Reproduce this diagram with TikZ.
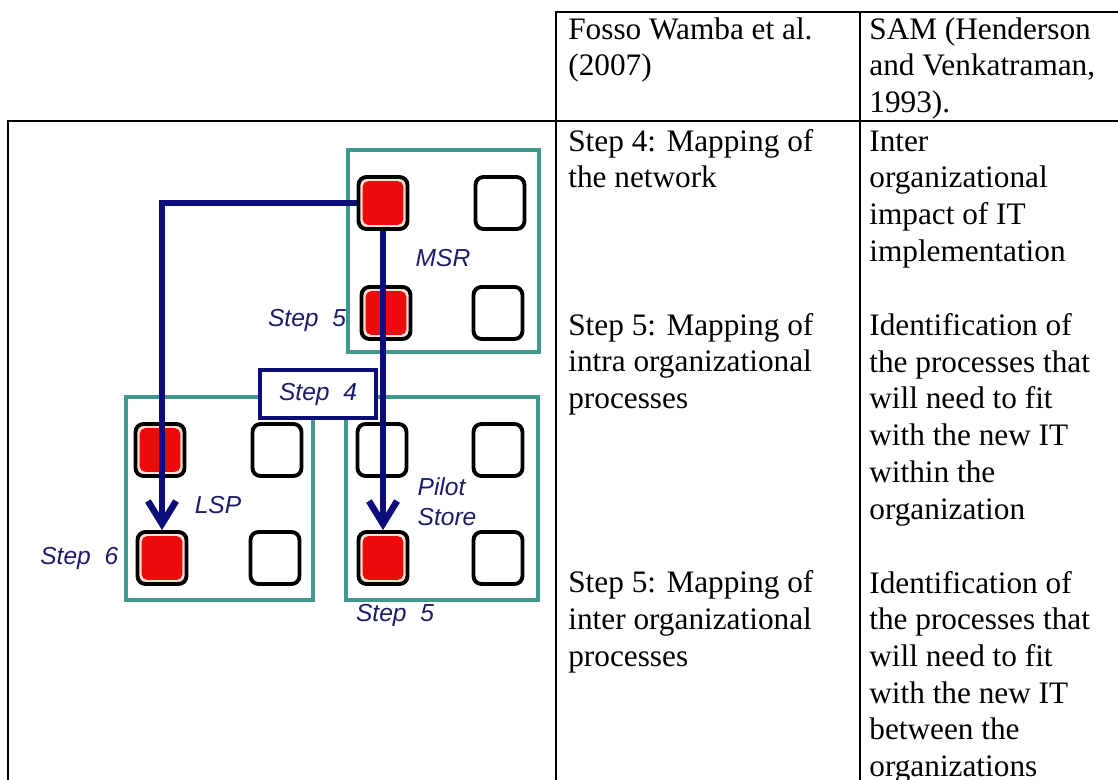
\documentclass[tikz,border=0pt]{standalone}
\usepackage{fontspec}
\setmainfont{Liberation Serif}
\setsansfont{Liberation Sans}
\usetikzlibrary{arrows.meta,positioning}
\definecolor{unitteal}{RGB}{64,152,142}
\definecolor{flownavy}{RGB}{12,12,122}
\definecolor{labelnavy}{RGB}{28,28,105}
\definecolor{cellred}{RGB}{236,10,10}
\definecolor{cellring}{RGB}{255,222,212}

\begin{document}
\begin{tikzpicture}[x=0.02cm, y=-0.02cm,
    rule/.style={line width=1.5pt, line cap=rect},
    txt/.style={anchor=base west, align=left, inner sep=0pt, font=\fontsize{17.8}{20.9}\selectfont},
    unit/.style={draw=unitteal, line width=2.3pt, inner sep=0pt},
    cell/.style={draw=black, line width=2.2pt, rounded corners=4.5pt, minimum width=0.98cm, minimum height=1.04cm, inner sep=0pt, fill=white},
    hot/.style={cell, fill=cellring, path picture={\fill[cellred, rounded corners=3pt] ([shift={(2.4pt,-2.4pt)}]path picture bounding box.north west) rectangle ([shift={(-2.4pt,2.4pt)}]path picture bounding box.south east);}},
    lbl/.style={inner sep=0pt, text=labelnavy, font=\fontsize{14}{17}\selectfont\sffamily\itshape},
    flow/.style={draw=flownavy, line width=3.7pt, -{Straight Barb[length=13pt,width=16pt]}}]
  \useasboundingbox (0,0) rectangle (1118,780);

  % table rules
  \draw[rule] (556,12) -- (1118,12);
  \draw[rule] (8,121) -- (1118,121);
  \draw[rule] (8,121) -- (8,780);
  \draw[rule] (556,12) -- (556,780);
  \draw[rule] (860,12) -- (860,780);

  % cells, placed at the baseline of their last line
  \node[txt] (hdrA) at (568,75.8) {Fosso Wamba et al.\\(2007)};
  \node[txt] (hdrB) at (869,112.6) {SAM (Henderson\\and Venkatraman,\\1993).};
  \node[txt] (stepA) at (568,187.8) {Step 4: Mapping of\\the network};
  \node[txt] (stepB) at (568,408.6) {Step 5: Mapping of\\intra organizational\\processes};
  \node[txt] (stepC) at (568,666.2) {Step 5: Mapping of\\inter organizational\\processes};
  \node[txt] (samA) at (869,261.4) {Inter\\organizational\\impact of IT\\implementation};
  \node[txt] (samB) at (869,519) {Identification of\\the processes that\\will need to fit\\with the new IT\\within the\\organization};
  \node[txt] (samC) at (869,776.6) {Identification of\\the processes that\\will need to fit\\with the new IT\\between the\\organizations};

  % organisations
  \node[unit, minimum width=3.82cm, minimum height=4.04cm] (msr) at (443.5,251) {};
  \node[unit, minimum width=3.74cm, minimum height=4.06cm] (lsp) at (219.5,498.5) {};
  \node[unit, minimum width=3.84cm, minimum height=4.06cm] (pilot) at (442,498.5) {};

  \node[hot] (m11) at (383,203) {};
  \node[cell] (m12) at (500,203) {};
  \node[hot] (m21) at (386,313) {};
  \node[cell] (m22) at (498,313) {};
  \node[hot] (l11) at (160,450) {};
  \node[cell] (l12) at (277,450) {};
  \node[hot] (l21) at (162,558) {};
  \node[cell] (l22) at (275,558) {};
  \node[cell] (p11) at (382,450) {};
  \node[cell] (p12) at (498,450) {};
  \node[hot] (p21) at (383,558) {};
  \node[cell] (p22) at (498,558) {};

  \node[lbl, draw=flownavy, line width=2.3pt, fill=white, minimum width=2.32cm, minimum height=0.96cm] (s4) at (318,394) {Step~~4};
  \node[lbl] (msrname) at (443,258) {MSR};
  \node[lbl] (s5a) at (307,320) {Step~~5};
  \node[lbl] (lspname) at (218,505) {LSP};
  \node[lbl, align=left] (pilotname) at (447,502) {Pilot\\Store};
  \node[lbl, left=0.34cm of l21] (s6) {Step~~6};
  \node[lbl] (s5b) at (395,615) {Step~~5};

  \draw[flow] (m11.west) -| (l21.north);
  \draw[flow] (m11.south) -- (p21.north);
\end{tikzpicture}
\end{document}
